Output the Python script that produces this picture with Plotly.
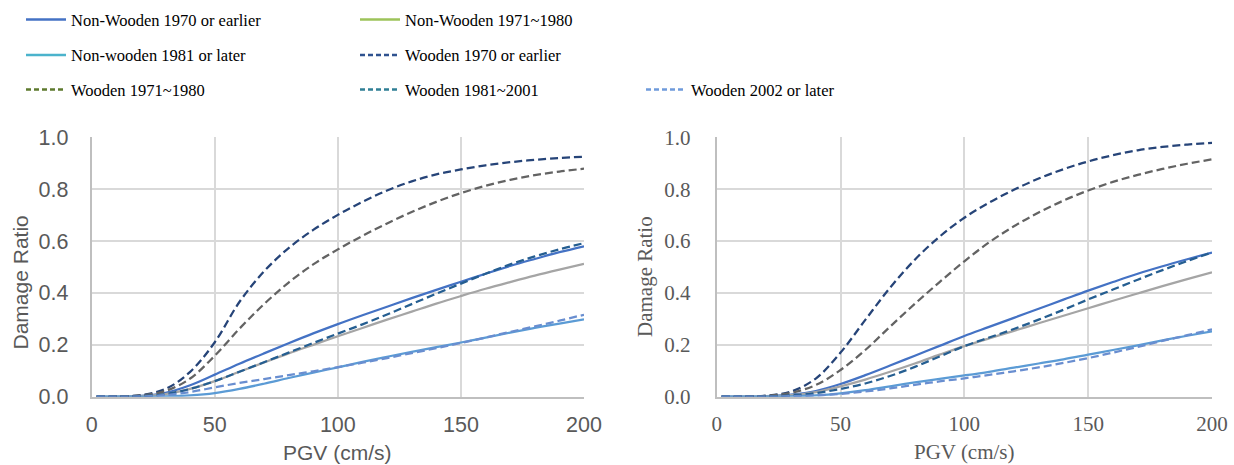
import plotly.graph_objects as go

# ---------------- data ----------------
PGV = [2, 10, 20, 30, 40, 50, 60, 70, 80, 90, 100, 110, 120, 130, 140, 150, 160, 170, 180, 190, 200]

SERIES_NAMES = [
    "Non-Wooden 1970 or earlier",
    "Non-Wooden 1971~1980",
    "Non-wooden 1981 or later",
    "Wooden 1970 or earlier",
    "Wooden 1971~1980",
    "Wooden 1981~2001",
    "Wooden 2002 or later",
]

# left chart
L_NW1970 = [0, 0, 0.003, 0.015, 0.044, 0.085, 0.127, 0.167, 0.206, 0.244, 0.280, 0.314, 0.347, 0.380, 0.412, 0.443, 0.474, 0.504, 0.531, 0.557, 0.580]
L_NW1971 = [0, 0, 0.002, 0.010, 0.030, 0.060, 0.096, 0.132, 0.167, 0.200, 0.233, 0.265, 0.297, 0.328, 0.359, 0.388, 0.416, 0.442, 0.467, 0.490, 0.512]
L_NW1981 = [0, 0, 0, 0.001, 0.005, 0.014, 0.030, 0.050, 0.072, 0.093, 0.113, 0.134, 0.154, 0.173, 0.191, 0.209, 0.228, 0.247, 0.265, 0.282, 0.298]
L_W1970 = [0, 0.001, 0.006, 0.030, 0.096, 0.210, 0.365, 0.483, 0.573, 0.643, 0.701, 0.751, 0.795, 0.830, 0.857, 0.876, 0.892, 0.904, 0.913, 0.920, 0.925]
L_W1971 = [0, 0.001, 0.005, 0.022, 0.070, 0.158, 0.262, 0.357, 0.440, 0.510, 0.568, 0.620, 0.668, 0.712, 0.751, 0.785, 0.813, 0.836, 0.854, 0.868, 0.879]
L_W1981 = [0, 0, 0.002, 0.010, 0.030, 0.060, 0.096, 0.133, 0.170, 0.207, 0.243, 0.279, 0.317, 0.357, 0.397, 0.436, 0.474, 0.510, 0.541, 0.568, 0.592]
L_W2002 = [0, 0, 0.001, 0.006, 0.018, 0.036, 0.053, 0.068, 0.083, 0.098, 0.114, 0.131, 0.149, 0.168, 0.187, 0.207, 0.228, 0.250, 0.271, 0.293, 0.316]

# right chart
R_NW1970 = [0, 0, 0.002, 0.008, 0.022, 0.049, 0.083, 0.120, 0.158, 0.196, 0.234, 0.269, 0.304, 0.339, 0.374, 0.409, 0.442, 0.474, 0.503, 0.530, 0.556]
R_NW1971 = [0, 0, 0.001, 0.006, 0.018, 0.040, 0.066, 0.096, 0.128, 0.162, 0.195, 0.225, 0.254, 0.283, 0.312, 0.341, 0.370, 0.398, 0.426, 0.453, 0.479]
R_NW1981 = [0, 0, 0, 0.001, 0.005, 0.013, 0.025, 0.040, 0.055, 0.069, 0.082, 0.096, 0.112, 0.128, 0.144, 0.162, 0.180, 0.198, 0.217, 0.235, 0.252]
R_W1970 = [0, 0, 0.004, 0.020, 0.070, 0.170, 0.296, 0.420, 0.528, 0.617, 0.690, 0.748, 0.798, 0.841, 0.877, 0.907, 0.931, 0.950, 0.963, 0.972, 0.979]
R_W1971 = [0, 0, 0.003, 0.015, 0.045, 0.103, 0.180, 0.270, 0.358, 0.442, 0.522, 0.595, 0.657, 0.710, 0.756, 0.795, 0.828, 0.855, 0.878, 0.898, 0.915]
R_W1981 = [0, 0, 0.001, 0.005, 0.014, 0.030, 0.051, 0.080, 0.115, 0.155, 0.195, 0.228, 0.261, 0.297, 0.335, 0.375, 0.413, 0.451, 0.488, 0.523, 0.556]
R_W2002 = [0, 0, 0, 0.002, 0.005, 0.011, 0.020, 0.032, 0.046, 0.059, 0.071, 0.084, 0.098, 0.113, 0.130, 0.149, 0.170, 0.192, 0.215, 0.237, 0.260]

X_TICKS = [0, 50, 100, 150, 200]
Y_TICKS = [0.0, 0.2, 0.4, 0.6, 0.8, 1.0]

# ---------------- styles ----------------
PLOT_COLORS = ["#4472C4", "#A5A5A5", "#5B9BD5", "#264478", "#636363", "#255E91", "#698ED0"]
LEGEND_COLORS = ["#4472C4", "#9DC35A", "#4BB3CC", "#2F528F", "#5E7A2E", "#2F7F95", "#6F9BDB"]
DASHED = [False, False, False, True, True, True, True]

W, H = 1234, 465

def px_x(p):
    return p / W

def px_y(p):
    return 1 - p / H

fig = go.Figure()

left = [L_NW1970, L_NW1971, L_NW1981, L_W1970, L_W1971, L_W1981, L_W2002]
right = [R_NW1970, R_NW1971, R_NW1981, R_W1970, R_W1971, R_W1981, R_W2002]

for axes, data in ((("x", "y"), left), (("x2", "y2"), right)):
    for i, ys in enumerate(data):
        fig.add_trace(go.Scatter(
            x=PGV, y=ys, mode="lines", xaxis=axes[0], yaxis=axes[1],
            line=dict(color=PLOT_COLORS[i], width=2.25, shape="spline", smoothing=1.0,
                      dash="8px,4px" if DASHED[i] else "solid"),
            showlegend=False, hoverinfo="skip",
        ))

# legend-only entries (legend colours differ from drawn colours in the original)
legend_pos = [(31, 19.7), (365, 19.7), (31, 55.3), (365, 55.3), (31, 89.7), (365, 89.7), (651, 89.7)]
legend_names = ["legend", "legend2", "legend3", "legend4", "legend5", "legend6", "legend7"]
for i, name in enumerate(SERIES_NAMES):
    fig.add_trace(go.Scatter(
        x=[None], y=[None], mode="lines", name=name, legend=legend_names[i],
        line=dict(color=LEGEND_COLORS[i], width=2.5, dash="5px,3px" if DASHED[i] else "solid"),
        showlegend=True,
    ))

legend_common = dict(font=dict(family="Liberation Serif", size=16.5, color="#000000"),
                     bgcolor="rgba(0,0,0,0)", borderwidth=0, xanchor="left", yanchor="middle",
                     xref="container", yref="container", itemwidth=40, tracegroupgap=0)
layout_legends = {}
for i, ln in enumerate(legend_names):
    x0, yc = legend_pos[i]
    layout_legends[ln] = dict(legend_common, x=px_x(x0 - 10), y=px_y(yc))

sans_tick = dict(family="Liberation Sans", size=21.5, color="#595959")
sans_title = dict(family="Liberation Sans", size=21, color="#595959")
serif = dict(family="Liberation Serif", size=21, color="#595959")

def xaxis(dom, font, anchor):
    return dict(domain=dom, range=[0, 200], tickvals=X_TICKS, showgrid=True, gridcolor="#D9D9D9",
                gridwidth=1.5, showline=True, linecolor="#BFBFBF", linewidth=2, zeroline=False,
                ticks="", tickfont=font, ticklabelstandoff=7, anchor=anchor, fixedrange=True,
                automargin=False)

def yaxis(dom, font, anchor, standoff):
    return dict(domain=dom, range=[0, 1], tickvals=Y_TICKS, tickformat=".1f", showgrid=True,
                gridcolor="#D9D9D9", gridwidth=1.5, showline=True, linecolor="#BFBFBF", linewidth=2,
                zeroline=False, ticks="", tickfont=font, ticklabelstandoff=standoff, anchor=anchor,
                fixedrange=True, automargin=False)

ydom = [1 - 396.7 / H, 1 - 137.3 / H]

fig.update_layout(
    width=W, height=H, margin=dict(l=0, r=0, t=0, b=0, autoexpand=False),
    paper_bgcolor="white", plot_bgcolor="white",
    xaxis=xaxis([91.7 / W, 584 / W], sans_tick, "y"),
    yaxis=yaxis(ydom, sans_tick, "x", 17),
    xaxis2=xaxis([716.7 / W, 1212 / W], serif, "y2"),
    yaxis2=yaxis(ydom, serif, "x2", 20),
    **layout_legends,
    annotations=[
        dict(text="Damage Ratio", textangle=-90, x=px_x(19.5), y=px_y(283), xref="paper", yref="paper",
             showarrow=False, font=sans_title, xanchor="center", yanchor="middle"),
        dict(text="PGV (cm/s)", x=px_x(337.9), y=px_y(452), xref="paper", yref="paper",
             showarrow=False, font=sans_title, xanchor="center", yanchor="middle"),
        dict(text="Damage Ratio", textangle=-90, x=px_x(645), y=px_y(277), xref="paper", yref="paper",
             showarrow=False, font=serif, xanchor="center", yanchor="middle"),
        dict(text="PGV (cm/s)", x=px_x(964.3), y=px_y(452), xref="paper", yref="paper",
             showarrow=False, font=serif, xanchor="center", yanchor="middle"),
    ],
)

fig.write_html("out.html", config={"displayModeBar": False},
               post_script="document.body.style.margin='0';document.body.style.overflow='hidden';")
